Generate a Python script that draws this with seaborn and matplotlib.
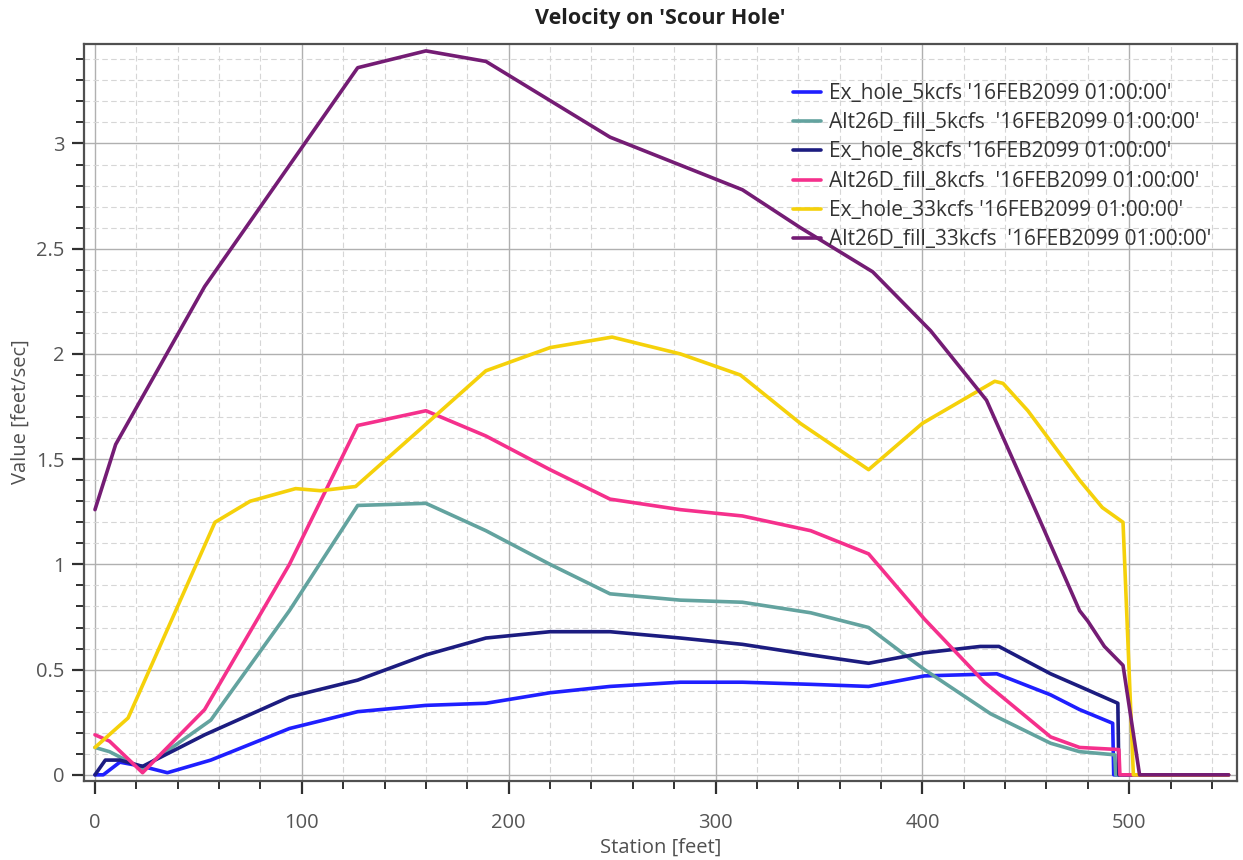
import matplotlib
matplotlib.use("Agg")
import matplotlib.pyplot as plt
from matplotlib.ticker import MultipleLocator, FuncFormatter
from matplotlib.lines import Line2D
import pandas as pd
import seaborn as sns

# Station (feet) / velocity (feet/sec) profiles for each run
TIME_TAG = "'16FEB2099 01:00:00'"

ex5_x = [0, 4, 12, 23, 35, 56, 94, 127, 160, 189, 220, 249, 283, 313, 346, 374, 401, 436, 462, 476, 492, 492.5, 548]
ex5_y = [0, 0, 0.06, 0.04, 0.01, 0.07, 0.22, 0.30, 0.33, 0.34, 0.39, 0.42, 0.44, 0.44, 0.43, 0.42, 0.47, 0.48, 0.38, 0.31, 0.245, 0, 0]

alt5_x = [0, 7, 23, 56, 94, 127, 160, 189, 220, 249, 283, 313, 346, 374, 401, 433, 462, 476, 493, 493.5, 548]
alt5_y = [0.13, 0.11, 0.03, 0.26, 0.78, 1.28, 1.29, 1.16, 1.00, 0.86, 0.83, 0.82, 0.77, 0.70, 0.50, 0.29, 0.15, 0.11, 0.095, 0, 0]

ex8_x = [0, 5, 12, 23, 53, 94, 127, 160, 189, 220, 249, 283, 313, 346, 374, 401, 428, 437, 462, 476, 494.5, 495, 548]
ex8_y = [0, 0.07, 0.07, 0.04, 0.19, 0.37, 0.45, 0.57, 0.65, 0.68, 0.68, 0.65, 0.62, 0.57, 0.53, 0.58, 0.61, 0.61, 0.48, 0.42, 0.34, 0, 0]

alt8_x = [0, 7, 23, 53, 94, 127, 160, 189, 220, 249, 283, 313, 346, 374, 401, 430, 462, 476, 495, 495.5, 548]
alt8_y = [0.19, 0.16, 0.01, 0.31, 1.00, 1.66, 1.73, 1.61, 1.45, 1.31, 1.26, 1.23, 1.16, 1.05, 0.74, 0.44, 0.18, 0.13, 0.12, 0, 0]

ex33_x = [0, 16, 58, 75, 97, 109, 126, 157, 189, 220, 250, 283, 312, 341, 374, 400, 435, 439, 451, 476, 487, 497, 502, 548]
ex33_y = [0.13, 0.27, 1.20, 1.30, 1.36, 1.35, 1.37, 1.64, 1.92, 2.03, 2.08, 2.00, 1.90, 1.67, 1.45, 1.67, 1.87, 1.86, 1.73, 1.40, 1.27, 1.20, 0, 0]

alt33_x = [0, 10, 53, 127, 160, 189, 249, 313, 341, 376, 404, 431, 455, 476, 480, 488, 497, 505, 548]
alt33_y = [1.26, 1.57, 2.32, 3.36, 3.44, 3.39, 3.03, 2.78, 2.60, 2.39, 2.11, 1.78, 1.25, 0.78, 0.73, 0.61, 0.52, 0, 0]

series_names = ["Ex_hole_5kcfs", "Alt26D_fill_5kcfs", "Ex_hole_8kcfs",
                "Alt26D_fill_8kcfs", "Ex_hole_33kcfs", "Alt26D_fill_33kcfs"]
series_x = [ex5_x, alt5_x, ex8_x, alt8_x, ex33_x, alt33_x]
series_y = [ex5_y, alt5_y, ex8_y, alt8_y, ex33_y, alt33_y]
series_colors = ["#1f1fff", "#63a39f", "#1c1c80", "#f5308c", "#f5d10a", "#741c74"]

frames = []
for name, xs, ys in zip(series_names, series_x, series_y):
    frames.append(pd.DataFrame({"station": xs, "value": ys, "series": name}))
df = pd.concat(frames, ignore_index=True)

sns.set_theme(style="white")
plt.rcParams["font.family"] = ["Open Sans", "DejaVu Sans"]

fig = plt.figure(figsize=(12.43, 8.6), dpi=100)
ax = fig.add_axes([0.0676, 0.0922, 0.9274, 0.8572])

palette = dict(zip(series_names, series_colors))
sns.lineplot(data=df, x="station", y="value", hue="series", hue_order=series_names,
             palette=palette, sort=False, estimator=None, units="series",
             linewidth=2.6, ax=ax, legend=False)

ax.set_xlim(-5.3, 552)
ax.set_ylim(-0.028, 3.475)

ax.xaxis.set_major_locator(MultipleLocator(100))
ax.xaxis.set_minor_locator(MultipleLocator(20))
ax.yaxis.set_major_locator(MultipleLocator(0.5))
ax.yaxis.set_minor_locator(MultipleLocator(0.1))
ax.yaxis.set_major_formatter(FuncFormatter(lambda v, p: f"{v:g}"))

ax.grid(which="major", color="#b0b0b0", linewidth=1.0, linestyle="-")
ax.grid(which="minor", color="#d6d6d6", linewidth=0.8, linestyle=(0, (5, 3)))
ax.set_axisbelow(True)

for s in ax.spines.values():
    s.set_color("#505050")
    s.set_linewidth(1.6)

ax.tick_params(axis="both", which="major", direction="out", length=9, width=1.6,
               color="#303030", labelsize=14.5, labelcolor="#555555",
               left=True, bottom=True)
ax.tick_params(axis="x", which="major", pad=14)
ax.tick_params(axis="y", which="major", pad=5)
ax.tick_params(axis="both", which="minor", direction="out", length=6, width=1.4,
               color="#303030", left=True, bottom=True)

ax.set_xlabel("Station [feet]", fontsize=14.5, color="#505050", labelpad=4)
ax.set_ylabel("Value [feet/sec]", fontsize=14.5, color="#505050", labelpad=4)
ax.set_title("Velocity on 'Scour Hole'", fontsize=15.5, fontweight="bold",
             color="#202020", pad=14)

handles = [Line2D([], [], color=c, linewidth=2.6) for c in series_colors]
labels = [f"{n} {TIME_TAG}" if n.startswith("Ex") else f"{n}  {TIME_TAG}"
          for n in series_names]
ax.legend(handles, labels, loc="upper left", bbox_to_anchor=(0.608, 0.958),
          frameon=False, fontsize=15, handlelength=1.35, handletextpad=0.35,
          labelspacing=0.4, borderaxespad=0, labelcolor="#333333")

fig.savefig("out.png", dpi=100)
